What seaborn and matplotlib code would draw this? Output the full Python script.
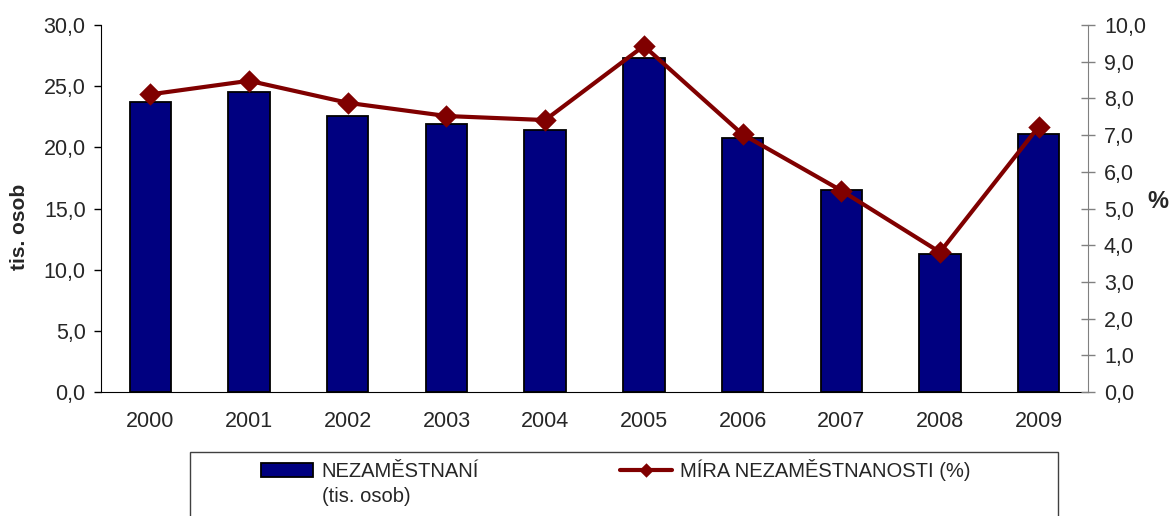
import numpy as np
import pandas as pd
import matplotlib
matplotlib.use('Agg')
import matplotlib.pyplot as plt
import seaborn as sns
from matplotlib.patches import Rectangle
from matplotlib.ticker import FixedLocator, FuncFormatter

# data
years = ['2000', '2001', '2002', '2003', '2004', '2005', '2006', '2007', '2008', '2009']
unemployed = [23.7, 24.5, 22.6, 21.9, 21.4, 27.3, 20.8, 16.5, 11.3, 21.1]   # tis. osob
rate = [8.11, 8.48, 7.88, 7.52, 7.41, 9.43, 7.02, 5.49, 3.81, 7.23]         # %

bar_label = 'NEZAMĚSTNANÍ'
bar_label_2 = '(tis. osob)'
line_label = 'MÍRA NEZAMĚSTNANOSTI (%)'

df = pd.DataFrame({'rok': years, 'nezam': unemployed, 'mira': rate})

sns.set_style('white')
plt.rcParams['font.family'] = ['Liberation Sans', 'DejaVu Sans']

navy = '#000080'
maroon = '#800000'
fs = 15.5

fig = plt.figure(figsize=(11.71, 5.16), dpi=100)
ax = fig.add_axes([101 / 1171, 1 - 392 / 516, 987 / 1171, 367 / 516])

sns.barplot(data=df, x='rok', y='nezam', ax=ax, color=navy, saturation=1,
            width=0.42, edgecolor='black', linewidth=1.3, label=bar_label)

ax2 = ax.twinx()
sns.pointplot(data=df, x='rok', y='mira', ax=ax2, color=maroon, markers='D',
              markersize=9.5, linewidth=3, label=line_label)

ax.set_xlim(-0.5, len(years) - 0.5)
ax.set_ylim(0, 30)
ax2.set_ylim(0, 10)
ax.set_yticks(np.arange(0, 30.1, 5))
ax2.set_yticks(np.arange(0, 10.1, 1))
comma = FuncFormatter(lambda v, p: f'{v:.1f}'.replace('.', ','))
ax.yaxis.set_major_formatter(comma)
ax2.yaxis.set_major_formatter(comma)

# x ticks between categories, labels at centres
ax.xaxis.set_minor_locator(FixedLocator(np.arange(-0.5, len(years), 1.0)))
ax.tick_params(axis='x', which='major', length=0, pad=14, labelsize=fs)
ax.tick_params(axis='x', which='minor', length=6, width=1, color='black', direction='out')
ax.tick_params(axis='y', left=True, length=5, width=1, color='black', direction='out',
               pad=6, labelsize=fs)
ax2.tick_params(axis='y', right=True, length=10, width=1, color='#808080',
                direction='inout', pad=6.5, labelsize=fs)

for s in ['top', 'right']:
    ax.spines[s].set_visible(False)
ax.spines['left'].set_color('black')
ax.spines['bottom'].set_color('black')
for s in ['top', 'left', 'bottom']:
    ax2.spines[s].set_visible(False)
ax2.spines['right'].set_color('#808080')

ax.set_xlabel('')
ax.set_ylabel('tis. osob', fontsize=15, fontweight='bold')
ax.yaxis.set_label_coords(-0.073, 0.45)
ax2.set_ylabel('%', fontsize=17, fontweight='bold', rotation=0, va='center', ha='center')
ax2.yaxis.set_label_coords(1.071, 0.518)

# legend box (cut by the bottom edge like in the reference)
fig.patches.append(Rectangle((190 / 1171, -0.05), 868 / 1171, 1 - 452 / 516 + 0.05,
                             transform=fig.transFigure, fill=False,
                             edgecolor='#404040', linewidth=1))

h1, l1 = ax.get_legend_handles_labels()
h2, l2 = ax2.get_legend_handles_labels()
if ax.get_legend() is not None:
    ax.get_legend().remove()
ax2.legend(h1 + h2, l1 + l2, loc='upper left', bbox_to_anchor=(261 / 1171, 1 - 459 / 516),
           bbox_transform=fig.transFigure, ncol=2, frameon=False, fontsize=14.5,
           handlelength=2.6, handleheight=0.7, handletextpad=0.4, columnspacing=7.0,
           markerscale=0.5, borderaxespad=0, borderpad=0)
fig.text(322 / 1171, 1 - 497 / 516, bar_label_2, fontsize=14.5, ha='left', va='center')

ax.set_zorder(1)
ax2.set_zorder(2)

fig.savefig('out.png', dpi=100)
